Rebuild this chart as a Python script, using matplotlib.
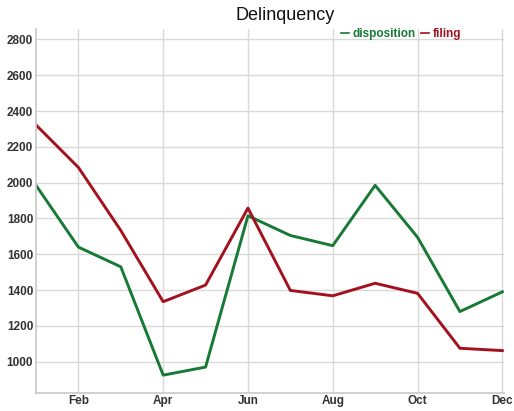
import matplotlib
matplotlib.use("Agg")
import matplotlib.pyplot as plt

months = ["Jan", "Feb", "Mar", "Apr", "May", "Jun", "Jul", "Aug", "Sep", "Oct", "Nov", "Dec"]
disposition = [1985, 1640, 1530, 925, 970, 1815, 1705, 1648, 1985, 1695, 1280, 1390]
filing = [2322, 2085, 1733, 1335, 1428, 1858, 1398, 1368, 1438, 1382, 1075, 1062]
yticks = [1000, 1200, 1400, 1600, 1800, 2000, 2200, 2400, 2600, 2800]
xtick_labels = ["Feb", "Apr", "Jun", "Aug", "Oct", "Dec"]

plt.rcParams['font.family'] = ['Liberation Sans', 'DejaVu Sans']

fig = plt.figure(figsize=(5.14, 4.11), dpi=100)
ax = fig.add_axes([36/514, 1 - 392.5/411, (504 - 36)/514, (392.5 - 29)/411])

x = list(range(len(months)))
green = "#167a35"
red = "#a3111f"
ax.plot(x, disposition, color=green, lw=2.1, label="disposition")
ax.plot(x, filing, color=red, lw=2.1, label="filing")

ax.set_xlim(0, 11.04)
ax.set_ylim(828, 2858)
ax.set_yticks(yticks)
xt = [months.index(m) for m in xtick_labels]
ax.set_xticks(xt)
ax.set_xticklabels(xtick_labels)
ax.tick_params(axis='both', length=0, labelsize=8.5, labelcolor="#333333")
ax.tick_params(axis='x', pad=2)
ax.tick_params(axis='y', pad=2)
for lab in ax.get_xticklabels() + ax.get_yticklabels():
    lab.set_fontweight('bold')

ax.grid(True, color="#d9d9d9", lw=1.0)
ax.set_axisbelow(True)
for s in ["top", "right"]:
    ax.spines[s].set_visible(False)
for s in ["left", "bottom"]:
    ax.spines[s].set_color("#c8c8c8")
    ax.spines[s].set_linewidth(1.2)

fig.text(285/514, 1 - 16/411, "Delinquency", ha="center", va="center", fontsize=13, color="#111111")

leg = ax.legend(loc="center", bbox_to_anchor=(401/514, 1 - 34/411), bbox_transform=fig.transFigure,
                ncol=2, frameon=False, handlelength=0.7, handletextpad=0.3, columnspacing=0.4,
                prop={'weight': 'bold', 'size': 8.5}, labelcolor='linecolor')
for h in leg.get_lines():
    h.set_linewidth(1.2)

fig.savefig("out.png", dpi=100)
